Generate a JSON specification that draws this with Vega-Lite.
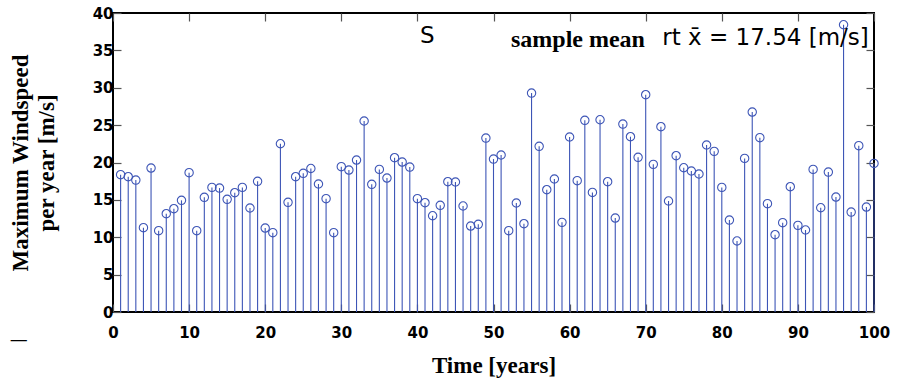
{
  "$schema": "https://vega.github.io/schema/vega-lite/v6.json",
  "width": 761,
  "height": 299,
  "autosize": "none",
  "padding": {"left": 113, "top": 13, "right": 25, "bottom": 67},
  "background": "white",
  "config": {
    "view": {"stroke": "black", "strokeWidth": 2},
    "axis": {
      "domain": false,
      "grid": false,
      "tickColor": "#555555",
      "tickSize": -8,
      "tickWidth": 1.2,
      "labelFont": "DejaVu Sans",
      "labelFontWeight": "bold",
      "labelFontSize": 15,
      "labelColor": "black",
      "titleFont": "Liberation Serif",
      "titleFontWeight": "bold",
      "titleFontSize": 23,
      "titleColor": "black"
    }
  },
  "datasets": {
    "wind": [
      {"year": 1, "v": 18.37}, {"year": 2, "v": 18.1}, {"year": 3, "v": 17.65}, {"year": 4, "v": 11.28}, {"year": 5, "v": 19.26},
      {"year": 6, "v": 10.88}, {"year": 7, "v": 13.15}, {"year": 8, "v": 13.82}, {"year": 9, "v": 14.94}, {"year": 10, "v": 18.64},
      {"year": 11, "v": 10.88}, {"year": 12, "v": 15.34}, {"year": 13, "v": 16.67}, {"year": 14, "v": 16.58}, {"year": 15, "v": 15.07},
      {"year": 16, "v": 15.96}, {"year": 17, "v": 16.67}, {"year": 18, "v": 13.91}, {"year": 19, "v": 17.48}, {"year": 20, "v": 11.23},
      {"year": 21, "v": 10.61}, {"year": 22, "v": 22.51}, {"year": 23, "v": 14.67}, {"year": 24, "v": 18.1}, {"year": 25, "v": 18.55},
      {"year": 26, "v": 19.2}, {"year": 27, "v": 17.12}, {"year": 28, "v": 15.16}, {"year": 29, "v": 10.61}, {"year": 30, "v": 19.44},
      {"year": 31, "v": 18.99}, {"year": 32, "v": 20.33}, {"year": 33, "v": 25.55}, {"year": 34, "v": 17.08}, {"year": 35, "v": 19.08},
      {"year": 36, "v": 17.92}, {"year": 37, "v": 20.64}, {"year": 38, "v": 20.06}, {"year": 39, "v": 19.39}, {"year": 40, "v": 15.16},
      {"year": 41, "v": 14.62}, {"year": 42, "v": 12.88}, {"year": 43, "v": 14.27}, {"year": 44, "v": 17.43}, {"year": 45, "v": 17.39},
      {"year": 46, "v": 14.18}, {"year": 47, "v": 11.5}, {"year": 48, "v": 11.73}, {"year": 49, "v": 23.27}, {"year": 50, "v": 20.46},
      {"year": 51, "v": 21.0}, {"year": 52, "v": 10.88}, {"year": 53, "v": 14.58}, {"year": 54, "v": 11.81}, {"year": 55, "v": 29.29},
      {"year": 56, "v": 22.16}, {"year": 57, "v": 16.36}, {"year": 58, "v": 17.79}, {"year": 59, "v": 11.99}, {"year": 60, "v": 23.41},
      {"year": 61, "v": 17.57}, {"year": 62, "v": 25.64}, {"year": 63, "v": 16.0}, {"year": 64, "v": 25.72}, {"year": 65, "v": 17.43},
      {"year": 66, "v": 12.57}, {"year": 67, "v": 25.14}, {"year": 68, "v": 23.45}, {"year": 69, "v": 20.69}, {"year": 70, "v": 29.07},
      {"year": 71, "v": 19.75}, {"year": 72, "v": 24.79}, {"year": 73, "v": 14.85}, {"year": 74, "v": 20.91}, {"year": 75, "v": 19.3},
      {"year": 76, "v": 18.86}, {"year": 77, "v": 18.46}, {"year": 78, "v": 22.34}, {"year": 79, "v": 21.49}, {"year": 80, "v": 16.67},
      {"year": 81, "v": 12.3}, {"year": 82, "v": 9.5}, {"year": 83, "v": 20.55}, {"year": 84, "v": 26.75}, {"year": 85, "v": 23.32},
      {"year": 86, "v": 14.49}, {"year": 87, "v": 10.34}, {"year": 88, "v": 11.95}, {"year": 89, "v": 16.76}, {"year": 90, "v": 11.59},
      {"year": 91, "v": 10.97}, {"year": 92, "v": 19.08}, {"year": 93, "v": 13.95}, {"year": 94, "v": 18.72}, {"year": 95, "v": 15.38},
      {"year": 96, "v": 38.43}, {"year": 97, "v": 13.37}, {"year": 98, "v": 22.25}, {"year": 99, "v": 14.04}, {"year": 100, "v": 19.88}
    ],
    "labels": [
      {"x": 41.3, "y": 36.0, "text": "S", "kind": "sans"},
      {"x": 85.75, "y": 35.7, "text": "rt x̄ = 17.54 [m/s]", "kind": "sans"},
      {"x": 61.1, "y": 35.4, "text": "sample mean", "kind": "serif"},
      {"x": -12.4, "y": -3.75, "text": "—", "kind": "dash"}
    ]
  },
  "layer": [
    {
      "data": {"name": "wind"},
      "mark": {"type": "rule", "color": "#3d55b6", "strokeWidth": 1.1},
      "encoding": {
        "x": {"field": "year", "type": "quantitative", "scale": {"domain": [0, 100], "nice": false},
              "axis": {"values": [0,10,20,30,40,50,60,70,80,90,100], "title": "Time [years]", "labelFlush": false, "labelPadding": 21, "titlePadding": 14}},
        "y": {"field": "v", "type": "quantitative", "scale": {"domain": [0, 40], "nice": false},
              "axis": {"values": [0,5,10,15,20,25,30,35,40], "title": ["Maximum Windspeed", "per year [m/s]"], "labelPadding": 8, "titlePadding": 34, "titleLineHeight": 26}},
        "y2": {"datum": 0}
      }
    },
    {
      "data": {"name": "wind"},
      "mark": {"type": "point", "shape": "circle", "filled": false, "color": "#3d55b6", "size": 70, "strokeWidth": 1.1, "opacity": 1},
      "encoding": {
        "x": {"field": "year", "type": "quantitative", "axis": null},
        "y": {"field": "v", "type": "quantitative", "axis": null}
      }
    },
    {
      "data": {"name": "wind"},
      "mark": {"type": "point", "opacity": 0},
      "encoding": {
        "x": {"field": "year", "type": "quantitative", "axis": {"orient": "top", "labels": false, "title": null, "values": [0,10,20,30,40,50,60,70,80,90,100]}},
        "y": {"field": "v", "type": "quantitative", "axis": {"orient": "right", "labels": false, "title": null, "values": [0,5,10,15,20,25,30,35,40]}}
      }
    },
    {
      "data": {"name": "labels"},
      "transform": [{"filter": "datum.kind === 'sans'"}],
      "mark": {"type": "text", "font": "DejaVu Sans", "fontSize": 23, "baseline": "alphabetic", "align": "center", "color": "black"},
      "encoding": {
        "x": {"field": "x", "type": "quantitative", "axis": null},
        "y": {"field": "y", "type": "quantitative", "axis": null},
        "text": {"field": "text"}
      }
    },
    {
      "data": {"name": "labels"},
      "transform": [{"filter": "datum.kind === 'serif'"}],
      "mark": {"type": "text", "font": "Liberation Serif", "fontWeight": "bold", "fontSize": 24, "baseline": "alphabetic", "align": "center", "color": "black"},
      "encoding": {
        "x": {"field": "x", "type": "quantitative", "axis": null},
        "y": {"field": "y", "type": "quantitative", "axis": null},
        "text": {"field": "text"}
      }
    },
    {
      "data": {"name": "labels"},
      "transform": [{"filter": "datum.kind === 'dash'"}],
      "mark": {"type": "text", "font": "DejaVu Sans", "fontSize": 18, "baseline": "middle", "align": "center", "color": "black", "clip": false},
      "encoding": {
        "x": {"field": "x", "type": "quantitative", "axis": null},
        "y": {"field": "y", "type": "quantitative", "axis": null},
        "text": {"field": "text"}
      }
    }
  ],
  "resolve": {"axis": {"x": "independent", "y": "independent"}}
}
